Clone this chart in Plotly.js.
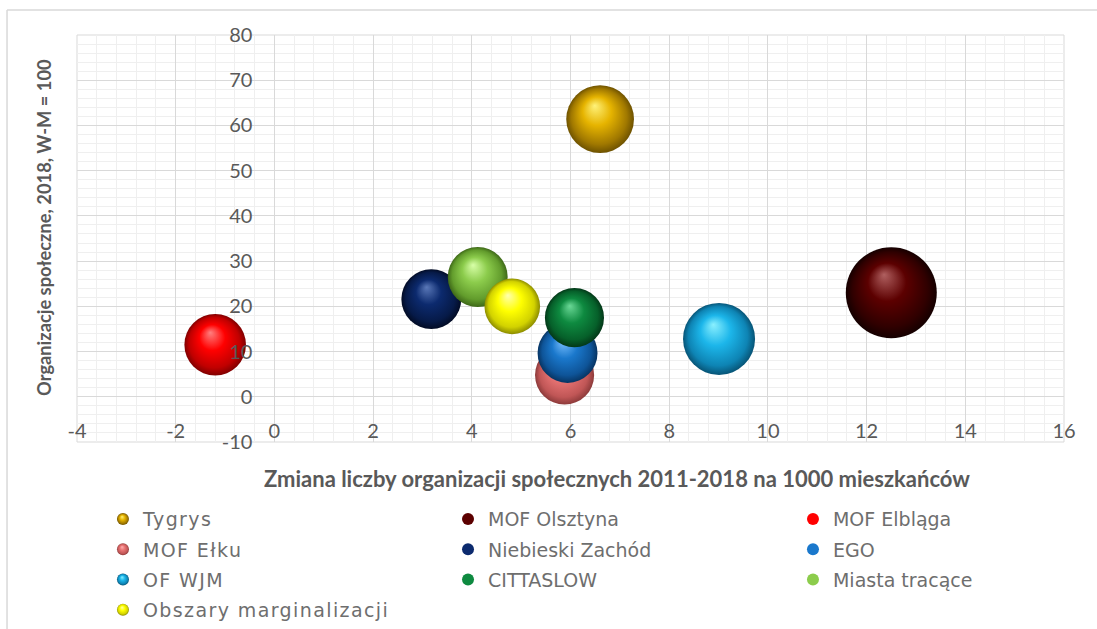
<!DOCTYPE html>
<html>
<head>
<meta charset="utf-8">
<script src="https://cdn.plot.ly/plotly-3.0.1.min.js"></script>
<style>
  html, body { margin: 0; padding: 0; background: #ffffff; }
  #chart { width: 1097px; height: 629px; }
  #chart .legend text.legendtext { letter-spacing: 1.4px; }
</style>
</head>
<body>
<div id="chart"></div>
<script>
// ---------------- DATA ----------------
const seriesNames = ['Tygrys', 'MOF Olsztyna', 'MOF Elbląga', 'MOF Ełku', 'Niebieski Zachód',
                     'EGO', 'OF WJM', 'CITTASLOW', 'Miasta tracące', 'Obszary marginalizacji'];
// Zmiana liczby organizacji społecznych 2011-2018 na 1000 mieszkańców
const xValues = [6.6, 12.5, -1.2, 5.88, 3.18, 5.94, 9.01, 6.08, 4.12, 4.82];
// Organizacje społeczne, 2018, W-M = 100
const yValues = [61.4, 23.0, 11.5, 4.8, 21.6, 9.7, 12.8, 17.5, 26.5, 20.0];
// bubble size variable
const sizeValues = [46, 83, 38, 35, 36, 36, 52, 35, 36, 31];
const xTickLabels = ['-4', '-2', '0', '2', '4', '6', '8', '10', '12', '14', '16'];
const yTickLabels = ['-10', '0', '10', '20', '30', '40', '50', '60', '70', '80'];
const xTitle = 'Zmiana liczby organizacji społecznych 2011-2018 na 1000 mieszkańców';
const yTitle = 'Organizacje społeczne, 2018, W-M = 100';

// ---------------- STYLE ----------------
const palette = [
  {hi: '#fff27a', base: '#e6b400', dark: '#a07800', rim: '#6e5200'},   // Tygrys
  {hi: '#b06060', base: '#5c0000', dark: '#300000', rim: '#150000'},   // MOF Olsztyna
  {hi: '#ff8080', base: '#ff0000', dark: '#c00000', rim: '#800000'},   // MOF Elbląga
  {hi: '#ffb0b0', base: '#e87474', dark: '#c05656', rim: '#8c3a3a'},   // MOF Ełku
  {hi: '#5a78b8', base: '#0c2a6e', dark: '#061a48', rim: '#020b24'},   // Niebieski Zachód
  {hi: '#7ac0ff', base: '#1a78cc', dark: '#0e5498', rim: '#073462'},   // EGO
  {hi: '#8af0ff', base: '#1cb6ea', dark: '#0e84b4', rim: '#075476'},   // OF WJM
  {hi: '#6ad896', base: '#0e8a40', dark: '#06602a', rim: '#033818'},   // CITTASLOW
  {hi: '#d8ffa8', base: '#8ccc4c', dark: '#629c2c', rim: '#3e6818'},   // Miasta tracące
  {hi: '#ffffb0', base: '#ffff00', dark: '#d2d200', rim: '#8c8c00'}    // Obszary marginalizacji
];
const MAX_BUBBLE_PX = 91;
const fontAxis = 'Lato, "Open Sans", sans-serif';
const fontLegend = '"DejaVu Sans", Verdana, sans-serif';
const grey = '#595959';

const legendIds = ['legend', 'legend2', 'legend3'];

const traces = seriesNames.map(function (name, i) {
  return {
    type: 'scatter',
    mode: 'markers',
    name: name,
    x: [xValues[i]],
    y: [yValues[i]],
    legend: legendIds[i % 3],
    legendgroup: 'g' + i,
    marker: {
      size: [sizeValues[i]],
      sizemode: 'area',
      sizeref: 2 * Math.max.apply(null, sizeValues) / (MAX_BUBBLE_PX * MAX_BUBBLE_PX),
      color: palette[i].base,
      line: {width: 0},
      opacity: 1
    },
    hoverinfo: 'name+x+y'
  };
});

const xMin = -4, xMax = 16, yMin = -10, yMax = 80;

function legendBox(xPaper) {
  return {
    orientation: 'v',
    x: xPaper, xanchor: 'left',
    y: -0.143, yanchor: 'top',
    font: {family: fontLegend, size: 19, color: '#6e6e6e'},
    itemsizing: 'constant',
    bgcolor: 'rgba(0,0,0,0)',
    borderwidth: 0,
    traceorder: 'grouped',
    tracegroupgap: 2.5
  };
}

const layout = {
  width: 1097,
  height: 629,
  margin: {l: 77, r: 33, t: 35, b: 187, pad: 0, autoexpand: false},
  paper_bgcolor: '#ffffff',
  plot_bgcolor: '#ffffff',
  showlegend: true,
  xaxis: {
    range: [xMin, xMax],
    tickmode: 'array',
    tickvals: xTickLabels.map(Number),
    ticktext: xTickLabels,
    showgrid: true,
    gridcolor: '#d9d9d9',
    gridwidth: 1,
    minor: {dtick: 0.4, tick0: 0, showgrid: true, gridcolor: '#efefef', gridwidth: 1},
    zeroline: false,
    showline: false,
    ticks: '',
    anchor: 'free',
    position: (0 - yMin) / (yMax - yMin),
    ticklabelstandoff: 20,
    tickfont: {family: fontAxis, size: 20, color: grey},
    automargin: false,
    fixedrange: true
  },
  yaxis: {
    range: [yMin, yMax],
    tickmode: 'array',
    tickvals: yTickLabels.map(Number),
    ticktext: yTickLabels,
    showgrid: true,
    gridcolor: '#d9d9d9',
    gridwidth: 1,
    minor: {dtick: 2, tick0: 0, showgrid: true, gridcolor: '#efefef', gridwidth: 1},
    zeroline: false,
    showline: false,
    ticks: '',
    anchor: 'free',
    position: (0 - xMin) / (xMax - xMin),
    ticklabelstandoff: 22,
    tickfont: {family: fontAxis, size: 20, color: grey},
    automargin: false,
    fixedrange: true
  },
  legend: legendBox(0.0263),
  legend2: legendBox(0.3759),
  legend3: legendBox(0.7254),
  annotations: [
    {
      text: xTitle, xref: 'paper', yref: 'paper',
      x: 0.547, y: -0.0885, xanchor: 'center', yanchor: 'middle',
      showarrow: false,
      font: {family: fontAxis, size: 22, color: grey, weight: 'bold'}
    },
    {
      text: yTitle, xref: 'paper', yref: 'paper',
      x: -0.0334, y: 0.526, xanchor: 'center', yanchor: 'middle',
      textangle: -90, showarrow: false,
      font: {family: fontAxis, size: 18.3, color: grey, weight: 'bold'}
    }
  ],
  shapes: [
    {type: 'rect', xref: 'paper', yref: 'paper', x0: 0, x1: 1, y0: 0, y1: 1,
     line: {color: '#d9d9d9', width: 1}, fillcolor: 'rgba(0,0,0,0)', layer: 'below'},
    {type: 'line', xref: 'paper', yref: 'paper', x0: -0.0709, x1: 1.04, y0: 1.0614, y1: 1.0614,
     line: {color: '#d9d9d9', width: 1.5}},
    {type: 'line', xref: 'paper', yref: 'paper', x0: -0.0709, x1: -0.0709, y0: 1.0614, y1: -0.47,
     line: {color: '#d9d9d9', width: 1.5}}
  ]
};

const config = {displayModeBar: false, responsive: false};

function ensureGradients(gd) {
  const NS = 'http://www.w3.org/2000/svg';
  if (document.getElementById('sphere-grad-0')) return;
  const svg = gd.querySelector('svg.main-svg');
  let defs = svg.querySelector('defs');
  if (!defs) { defs = document.createElementNS(NS, 'defs'); svg.insertBefore(defs, svg.firstChild); }
  palette.forEach(function (p, i) {
    const g = document.createElementNS(NS, 'radialGradient');
    g.setAttribute('id', 'sphere-grad-' + i);
    g.setAttribute('cx', '0.5'); g.setAttribute('cy', '0.5'); g.setAttribute('r', '0.5');
    g.setAttribute('fx', '0.42'); g.setAttribute('fy', '0.3');
    [[0, p.hi], [0.42, p.base], [0.82, p.dark], [1, p.rim]].forEach(function (s) {
      const st = document.createElementNS(NS, 'stop');
      st.setAttribute('offset', s[0]);
      st.setAttribute('stop-color', s[1]);
      g.appendChild(st);
    });
    defs.appendChild(g);
  });
}

function applySpheres(gd) {
  ensureGradients(gd);
  gd.querySelectorAll('.scatterlayer .trace').forEach(function (tg) {
    const d = tg.__data__;
    const idx = d && d[0] && d[0].trace ? d[0].trace.index : null;
    if (idx === null || idx === undefined) return;
    tg.querySelectorAll('path.point').forEach(function (pt) {
      pt.style.fill = 'url(#sphere-grad-' + idx + ')';
    });
  });
  gd.querySelectorAll('g.traces').forEach(function (tg) {
    const txt = tg.querySelector('text.legendtext');
    if (!txt) return;
    const idx = seriesNames.indexOf(txt.textContent);
    if (idx < 0) return;
    tg.querySelectorAll('.legendpoints path').forEach(function (pt) {
      pt.style.fill = 'url(#sphere-grad-' + idx + ')';
    });
  });
  // let the letter-spaced legend labels show in full
  gd.querySelectorAll('.legend, .legend .scrollbox, .legend .groups').forEach(function (el) {
    el.removeAttribute('clip-path');
    el.style.clipPath = 'none';
  });
}

Plotly.newPlot('chart', traces, layout, config).then(function (gd) {
  applySpheres(gd);
  gd.on('plotly_afterplot', function () { applySpheres(gd); });
});
</script>
</body>
</html>
